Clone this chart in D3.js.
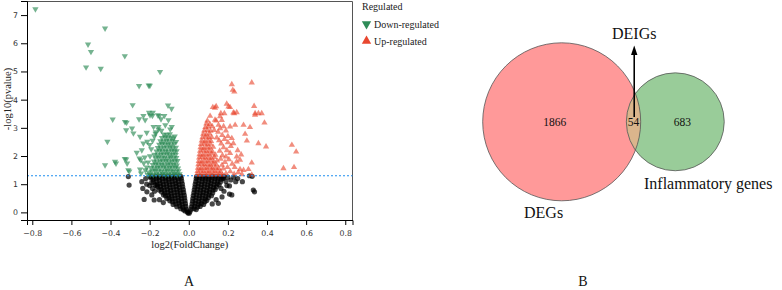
<!DOCTYPE html>
<html>
<head>
<meta charset="utf-8">
<script src="https://cdn.jsdelivr.net/npm/d3@7"></script>
<style>
  body { margin: 0; background: #fff; }
  svg { display: block; }
</style>
</head>
<body>
<div id="figure-wrapper"></div>
<script>

// ---- volcano data: [log2(FoldChange), -log10(pvalue)] ----
const downGenes = [
  [-0.784,7.21],[-0.428,6.53],[-0.515,5.96],[-0.5,5.7],[-0.525,5.15],[-0.45,5.1],[-0.327,5.55],[-0.147,4.99],
  [-0.254,4.49],[-0.205,4.51],[-0.199,4.5],[-0.287,3.81],[-0.106,3.8],[-0.088,3.68],[-0.203,3.54],[-0.184,3.54],
  [-0.232,3.43],[-0.198,3.45],[-0.186,3.43],[-0.158,3.45],[-0.15,3.43],[-0.125,3.43],[-0.389,3.3],[-0.254,3.31],
  [-0.223,3.28],[-0.142,3.31],[-0.104,3.28],[-0.326,3.21],[-0.318,3.19],[-0.416,2.51],[-0.32,2.92],[-0.29,2.98],
  [-0.283,2.81],[-0.249,2.69],[-0.266,2.12],[-0.24,2.21],[-0.232,2.45],[-0.212,2.51],[-0.428,1.68],[-0.377,1.8],
  [-0.372,1.74],[-0.327,1.9],[-0.32,1.88],[-0.315,1.74],[-0.304,1.46],[-0.309,1.5],[-0.252,1.92],[-0.245,1.86],
  [-0.249,1.53],[-0.244,1.39],
  [-0.205,1.42],[-0.215,1.6],[-0.208,1.78],[-0.225,1.95],[-0.198,2.0],[-0.192,2.25],[-0.2,2.4],[-0.185,2.55],
  [-0.176,2.7],[-0.168,2.85],[-0.155,2.95],[-0.18,3.04],[-0.155,3.04],[-0.087,3.04],[-0.215,2.83],[-0.17,2.8],
  [-0.14,2.9],[-0.12,3.1],[-0.095,2.95],[-0.072,2.7],[-0.065,2.5],[-0.21,1.33],[-0.222,1.5],[-0.23,1.75],
  [-0.197,1.35],[-0.181,1.33],[-0.166,1.36],[-0.149,1.34],[-0.133,1.37],[-0.118,1.33],[-0.104,1.36],[-0.088,1.34],[-0.073,1.37],[-0.059,1.33],[-0.047,1.36],
  [-0.19,1.46],[-0.173,1.48],[-0.158,1.45],[-0.141,1.47],[-0.125,1.44],[-0.111,1.48],[-0.095,1.45],[-0.081,1.47],[-0.066,1.44],[-0.052,1.47],
  [-0.193,1.58],[-0.176,1.56],[-0.161,1.59],[-0.146,1.57],[-0.129,1.6],[-0.114,1.56],[-0.098,1.59],[-0.084,1.57],[-0.069,1.6],[-0.055,1.56],
  [-0.184,1.69],[-0.168,1.71],[-0.152,1.68],[-0.137,1.7],[-0.121,1.67],[-0.106,1.71],[-0.091,1.68],[-0.076,1.7],[-0.061,1.67],
  [-0.178,1.81],[-0.163,1.79],[-0.147,1.82],[-0.132,1.8],[-0.117,1.83],[-0.101,1.79],[-0.087,1.82],[-0.071,1.8],[-0.058,1.83],
  [-0.171,1.93],[-0.156,1.95],[-0.14,1.92],[-0.124,1.94],[-0.109,1.91],[-0.094,1.95],[-0.079,1.92],[-0.064,1.94],
  [-0.176,2.05],[-0.159,2.03],[-0.143,2.06],[-0.128,2.04],[-0.113,2.07],[-0.097,2.03],[-0.083,2.06],[-0.067,2.04],
  [-0.165,2.17],[-0.149,2.19],[-0.134,2.16],[-0.118,2.18],[-0.104,2.15],[-0.088,2.19],[-0.073,2.16],[-0.062,2.18],
  [-0.158,2.29],[-0.142,2.27],[-0.127,2.3],[-0.111,2.28],[-0.095,2.31],[-0.08,2.27],[-0.066,2.3],
  [-0.151,2.41],[-0.136,2.43],[-0.12,2.4],[-0.105,2.42],[-0.09,2.39],[-0.075,2.43],
  [-0.145,2.53],[-0.129,2.51],[-0.114,2.54],[-0.099,2.52],[-0.083,2.55],
  [-0.137,2.65],[-0.121,2.67],[-0.107,2.64],[-0.091,2.66],[-0.079,2.63],
  [-0.127,2.77],[-0.112,2.75],[-0.097,2.78]
]

const upGenes = [
  [0.22,4.54],[0.322,4.6],[0.225,4.34],[0.233,4.28],[0.123,3.73],[0.134,3.71],[0.14,3.76],[0.194,3.85],
  [0.203,3.75],[0.211,3.73],[0.334,3.77],[0.339,3.51],[0.356,3.51],[0.109,3.42],[0.16,3.4],[0.164,3.51],
  [0.182,3.51],[0.228,3.54],[0.232,3.51],[0.245,3.55],[0.339,3.46],[0.373,3.51],[0.387,3.18],[0.28,3.1],
  [0.313,3.02],[0.211,3.04],[0.237,3.1],[0.134,3.28],[0.152,3.1],[0.16,2.98],[0.095,3.25],[0.14,3.25],
  [0.169,3.27],[0.288,2.78],[0.297,2.54],[0.22,2.63],[0.228,2.45],[0.356,2.45],[0.395,2.33],[0.527,2.39],
  [0.549,2.15],[0.484,1.56],[0.538,1.6],[0.322,1.76],[0.262,1.53],[0.28,1.5],[0.305,1.53],[0.322,1.33],
  [0.245,1.8],[0.262,1.86],[0.211,2.1],[0.245,1.98],
  [0.15,2.85],[0.171,2.74],[0.19,2.9],[0.183,2.6],[0.2,2.48],[0.166,2.44],[0.178,2.3],[0.195,2.2],
  [0.158,2.18],[0.215,2.35],[0.19,1.98],[0.172,2.02],[0.205,1.88],[0.185,1.78],[0.163,1.9],[0.222,1.72],
  [0.198,1.6],[0.176,1.55],[0.212,1.45],[0.19,1.38],[0.232,1.36],[0.17,1.68],[0.155,2.55],[0.143,2.65],
  [0.25,2.2],[0.268,2.05],[0.235,1.6],[0.253,1.42],[0.272,1.35],[0.2,2.7],[0.178,3.05],[0.12,3.05],[0.13,2.92],
  [0.042,1.35],[0.056,1.33],[0.07,1.36],[0.085,1.34],[0.1,1.37],[0.114,1.33],[0.129,1.36],[0.144,1.34],[0.158,1.37],[0.172,1.33],
  [0.045,1.46],[0.059,1.48],[0.074,1.45],[0.089,1.47],[0.103,1.44],[0.118,1.48],[0.133,1.45],[0.148,1.47],[0.163,1.44],
  [0.047,1.58],[0.062,1.56],[0.077,1.59],[0.092,1.57],[0.107,1.6],[0.121,1.56],[0.136,1.59],[0.152,1.57],
  [0.049,1.7],[0.064,1.72],[0.079,1.69],[0.094,1.71],[0.11,1.68],[0.125,1.72],[0.141,1.69],
  [0.051,1.82],[0.066,1.8],[0.081,1.83],[0.097,1.81],[0.112,1.84],[0.128,1.8],[0.145,1.83],
  [0.053,1.94],[0.068,1.96],[0.084,1.93],[0.099,1.95],[0.115,1.92],[0.131,1.96],
  [0.055,2.06],[0.071,2.04],[0.086,2.07],[0.102,2.05],[0.118,2.08],[0.136,2.04],
  [0.058,2.18],[0.073,2.2],[0.089,2.17],[0.105,2.19],[0.121,2.16],
  [0.06,2.3],[0.076,2.28],[0.092,2.31],[0.108,2.29],[0.125,2.32],
  [0.063,2.42],[0.079,2.44],[0.095,2.41],[0.111,2.43],
  [0.066,2.54],[0.082,2.52],[0.098,2.55],[0.114,2.53],
  [0.07,2.66],[0.086,2.68],[0.102,2.65],[0.117,2.67],
  [0.074,2.78],[0.09,2.76],[0.106,2.79],
  [0.079,2.9],[0.095,2.92],[0.111,2.89],
  [0.085,3.02],[0.1,3.04],
  [0.09,3.15],[0.108,3.13]
]

const nsGenes = [
  // left side
  [-0.007,0.02],[-0.019,0.05],[-0.004,-0.02],
  [-0.012,0.12],[-0.027,0.09],[-0.041,0.13],
  [-0.015,0.21],[-0.031,0.19],[-0.046,0.23],[-0.061,0.2],
  [-0.017,0.31],[-0.034,0.29],[-0.05,0.33],[-0.066,0.3],[-0.08,0.28],
  [-0.019,0.41],[-0.036,0.39],[-0.052,0.42],[-0.068,0.4],[-0.084,0.38],[-0.097,0.41],
  [-0.021,0.51],[-0.038,0.49],[-0.054,0.52],[-0.07,0.5],[-0.086,0.48],[-0.101,0.52],[-0.112,0.49],
  [-0.023,0.61],[-0.04,0.59],[-0.056,0.62],[-0.072,0.6],[-0.088,0.58],[-0.104,0.61],[-0.119,0.59],[-0.129,0.62],
  [-0.026,0.71],[-0.043,0.69],[-0.059,0.72],[-0.075,0.7],[-0.091,0.68],[-0.107,0.71],[-0.123,0.69],[-0.139,0.72],
  [-0.028,0.81],[-0.045,0.79],[-0.061,0.82],[-0.077,0.8],[-0.093,0.78],[-0.109,0.81],[-0.125,0.79],[-0.141,0.82],[-0.152,0.79],
  [-0.031,0.91],[-0.048,0.89],[-0.064,0.92],[-0.08,0.9],[-0.096,0.88],[-0.112,0.91],[-0.128,0.89],[-0.144,0.92],[-0.159,0.9],
  [-0.033,1.01],[-0.05,0.99],[-0.066,1.02],[-0.082,1.0],[-0.098,0.98],[-0.114,1.01],[-0.13,0.99],[-0.146,1.02],[-0.162,1.0],[-0.172,0.97],
  [-0.036,1.11],[-0.053,1.09],[-0.069,1.12],[-0.085,1.1],[-0.101,1.08],[-0.117,1.11],[-0.133,1.09],[-0.149,1.12],[-0.165,1.1],[-0.181,1.08],
  [-0.038,1.21],[-0.055,1.19],[-0.071,1.22],[-0.087,1.2],[-0.103,1.18],[-0.119,1.21],[-0.135,1.19],[-0.151,1.22],[-0.167,1.2],[-0.183,1.18],[-0.194,1.22],
  [-0.041,1.28],[-0.057,1.27],[-0.073,1.29],[-0.089,1.27],[-0.105,1.28],[-0.121,1.27],[-0.137,1.29],[-0.153,1.27],[-0.169,1.28],[-0.185,1.26],[-0.199,1.28],
  [-0.309,1.27],[-0.305,0.97],[-0.228,0.46],[-0.214,0.73],[-0.235,0.85],[-0.24,1.09],[-0.189,0.62],[-0.177,0.44],
  [-0.163,0.94],[-0.22,1.2],[-0.2,0.95],[-0.19,1.05],[-0.175,0.75],[-0.215,1.0],[-0.15,0.45],[-0.13,0.35],[-0.185,0.85],
  // right side
  [0.006,0.03],[0.002,-0.03],
  [0.012,0.11],[0.027,0.13],[0.038,0.1],
  [0.014,0.2],[0.03,0.22],[0.045,0.19],[0.058,0.21],
  [0.017,0.3],[0.033,0.32],[0.049,0.29],[0.064,0.31],[0.076,0.28],
  [0.019,0.4],[0.035,0.42],[0.051,0.39],[0.067,0.41],[0.082,0.38],[0.092,0.42],
  [0.021,0.5],[0.037,0.52],[0.053,0.49],[0.069,0.51],[0.085,0.48],[0.1,0.52],
  [0.023,0.6],[0.039,0.62],[0.055,0.59],[0.071,0.61],[0.087,0.58],[0.103,0.62],[0.116,0.59],
  [0.026,0.7],[0.042,0.72],[0.058,0.69],[0.074,0.71],[0.09,0.68],[0.106,0.72],[0.122,0.69],
  [0.028,0.8],[0.044,0.82],[0.06,0.79],[0.076,0.81],[0.092,0.78],[0.108,0.82],[0.124,0.79],[0.135,0.81],
  [0.031,0.9],[0.047,0.92],[0.063,0.89],[0.079,0.91],[0.095,0.88],[0.111,0.92],[0.127,0.89],[0.142,0.91],
  [0.033,1.0],[0.049,1.02],[0.065,0.99],[0.081,1.01],[0.097,0.98],[0.113,1.02],[0.129,0.99],[0.145,1.01],[0.155,0.98],
  [0.036,1.1],[0.052,1.12],[0.068,1.09],[0.084,1.11],[0.1,1.08],[0.116,1.12],[0.132,1.09],[0.148,1.11],[0.162,1.08],
  [0.038,1.2],[0.054,1.22],[0.07,1.19],[0.086,1.21],[0.102,1.18],[0.118,1.22],[0.134,1.19],[0.15,1.21],[0.166,1.18],[0.175,1.22],
  [0.04,1.27],[0.056,1.29],[0.072,1.27],[0.088,1.28],[0.104,1.26],[0.12,1.29],[0.136,1.27],[0.152,1.28],[0.168,1.26],[0.18,1.28],
  [0.24,1.09],[0.274,1.09],[0.33,0.79],[0.336,0.73],[0.208,0.65],[0.22,0.62],[0.151,0.32],[0.31,1.3],
  [0.324,1.28],[0.177,1.21],[0.208,0.94],[0.19,1.1],[0.2,1.25],[0.165,0.85],[0.18,0.75],[0.215,1.15],
  [0.23,1.25],[0.25,1.2],[0.14,0.45],[0.12,0.3],[0.17,0.55],[0.195,0.95]
]

const xTicks = [-0.8, -0.6, -0.4, -0.2, 0.0, 0.2, 0.4, 0.6, 0.8]
const yTicks = [0, 1, 2, 3, 4, 5, 6, 7]
const pThreshold = 0.05

const legendTitle = "Regulated"
const legendLabels = ["Down-regulated", "Up-regulated"]

// ---- venn data ----
const vennNames = ["DEGs", "Inflammatory genes"]
const vennCounts = [1866, 54, 683]   // DEGs only, both, inflammatory only
const vennCalloutLabel = "DEIGs"
const panelLabels = ["A", "B"]

const serif = "'Liberation Serif', 'Times New Roman', serif"
const sans = "'DejaVu Sans', sans-serif"
const colors = {
  down: "#2e8b57",
  up: "#e8472f",
  ns: "#000000",
  threshold: "#1f8ff0",
  vennA: "#ff9999",
  vennB: "#99cc99",
  vennAB: "#dab58c",
}

function drawFigure() {
  const svg = d3.select("#figure-wrapper")
    .append("svg")
      .attr("width", 782)
      .attr("height", 290)

  // ===== panel A: volcano =====
  let dimensions = {
    margin: { top: 1, left: 27 },
    boundedWidth: 325.5,
    boundedHeight: 219,
  }

  const xScale = d3.scaleLinear()
      .domain([-0.827, 0.837])
      .range([0, dimensions.boundedWidth])

  const yScale = d3.scaleLinear()
      .domain([-0.27, 7.5])
      .range([dimensions.boundedHeight, 0])

  const bounds = svg.append("g")
      .attr("transform", `translate(${dimensions.margin.left},${dimensions.margin.top})`)

  // frame top / right
  bounds.append("path")
      .attr("d", `M0,0.5H${dimensions.boundedWidth}V${dimensions.boundedHeight}`)
      .attr("fill", "none")
      .attr("stroke", "#555")
      .attr("stroke-width", 1)

  // points
  bounds.append("g")
    .selectAll("circle")
    .data(nsGenes)
    .join("circle")
      .attr("cx", d => xScale(d[0]))
      .attr("cy", d => yScale(d[1]))
      .attr("r", 2.6)
      .attr("fill", colors.ns)
      .attr("fill-opacity", 0.72)

  const smallTri = d3.symbol().type(d3.symbolTriangle).size(17)

  bounds.append("g")
    .selectAll("path")
    .data(downGenes)
    .join("path")
      .attr("d", smallTri)
      .attr("transform", d => `translate(${xScale(d[0])},${yScale(d[1])}) rotate(180)`)
      .attr("fill", colors.down)
      .attr("fill-opacity", 0.66)

  bounds.append("g")
    .selectAll("path")
    .data(upGenes)
    .join("path")
      .attr("d", smallTri)
      .attr("transform", d => `translate(${xScale(d[0])},${yScale(d[1])})`)
      .attr("fill", colors.up)
      .attr("fill-opacity", 0.62)

  // p = 0.05 line
  bounds.append("line")
      .attr("x1", 0)
      .attr("x2", dimensions.boundedWidth)
      .attr("y1", yScale(-Math.log10(pThreshold)))
      .attr("y2", yScale(-Math.log10(pThreshold)))
      .attr("stroke", colors.threshold)
      .attr("stroke-width", 1.1)
      .attr("stroke-dasharray", "2,2")

  // axes
  const xAxis = bounds.append("g")
      .attr("transform", `translate(0,${dimensions.boundedHeight})`)
      .call(d3.axisBottom(xScale)
        .tickValues(xTicks)
        .tickFormat(d3.format(".1f"))
        .tickSize(5)
        .tickPadding(5))

  const yAxis = bounds.append("g")
      .call(d3.axisLeft(yScale)
        .tickValues(yTicks)
        .tickFormat(d3.format("d"))
        .tickSize(6)
        .tickPadding(3))

  ;[xAxis, yAxis].forEach(axis => {
    axis.selectAll("text")
        .attr("font-family", sans)
        .attr("font-size", 7.8)
        .attr("fill", "#333")
    axis.selectAll("line, path").attr("stroke", "#000")
  })

  svg.append("text")
      .attr("x", dimensions.margin.left + dimensions.boundedWidth / 2)
      .attr("y", 248)
      .attr("text-anchor", "middle")
      .attr("font-family", serif)
      .attr("font-size", 10.5)
      .attr("fill", "#222")
      .text("log2(FoldChange)")

  svg.append("text")
      .attr("transform", "translate(10.5,99) rotate(-90)")
      .attr("text-anchor", "middle")
      .attr("font-family", serif)
      .attr("font-size", 10.5)
      .attr("fill", "#222")
      .text("-log10(pvalue)")

  // legend
  const legend = svg.append("g").attr("transform", "translate(362,0)")
  legend.append("text")
      .attr("x", 0).attr("y", 9.5)
      .attr("font-family", serif)
      .attr("font-size", 10)
      .attr("fill", "#222")
      .text(legendTitle)

  const legendTri = d3.symbol().type(d3.symbolTriangle).size(38)
  legendLabels.forEach((label, i) => {
    const cy = 24 + i * 17
    legend.append("path")
        .attr("d", legendTri)
        .attr("transform", `translate(4.5,${cy}) rotate(${i === 0 ? 180 : 0})`)
        .attr("fill", i === 0 ? colors.down : colors.up)
    legend.append("text")
        .attr("x", 12)
        .attr("y", cy + 3.5)
        .attr("font-family", serif)
        .attr("font-size", 10)
        .attr("fill", "#222")
        .text(label)
  })

  // ===== panel B: venn =====
  const totalA = vennCounts[0] + vennCounts[1]
  const totalB = vennCounts[2] + vennCounts[1]
  const rScale = d3.scaleSqrt().domain([0, totalA]).range([0, 79])
  const r1 = rScale(totalA)
  const r2 = rScale(totalB)

  function lensArea(d) {
    const a1 = Math.acos((d * d + r1 * r1 - r2 * r2) / (2 * d * r1))
    const a2 = Math.acos((d * d + r2 * r2 - r1 * r1) / (2 * d * r2))
    const k = Math.sqrt((-d + r1 + r2) * (d + r1 - r2) * (d - r1 + r2) * (d + r1 + r2))
    return r1 * r1 * a1 + r2 * r2 * a2 - 0.5 * k
  }
  const targetArea = vennCounts[1] / totalA * Math.PI * r1 * r1
  let lo = Math.abs(r1 - r2) + 1e-6, hi = r1 + r2 - 1e-6
  for (let i = 0; i < 60; i++) {
    const mid = (lo + hi) / 2
    if (lensArea(mid) > targetArea) lo = mid
    else hi = mid
  }
  const dist = (lo + hi) / 2

  const cA = { x: 561.7, y: 121.8 }
  const cB = { x: cA.x + dist, y: cA.y }
  const lensMid = ((cA.x + r1) + (cB.x - r2)) / 2

  const venn = svg.append("g")
  venn.append("clipPath").attr("id", "clipA")
    .append("circle").attr("cx", cA.x).attr("cy", cA.y).attr("r", r1)

  venn.append("circle")
      .attr("cx", cA.x).attr("cy", cA.y).attr("r", r1)
      .attr("fill", colors.vennA)
  venn.append("circle")
      .attr("cx", cB.x).attr("cy", cB.y).attr("r", r2)
      .attr("fill", colors.vennB)
  venn.append("circle")
      .attr("cx", cB.x).attr("cy", cB.y).attr("r", r2)
      .attr("clip-path", "url(#clipA)")
      .attr("fill", colors.vennAB)
  ;[[cA, r1], [cB, r2]].forEach(([c, r]) => {
    venn.append("circle")
        .attr("cx", c.x).attr("cy", c.y).attr("r", r)
        .attr("fill", "none")
        .attr("stroke", "#555")
        .attr("stroke-width", 0.8)
  })

  const countPos = [cA.x - 7, lensMid, cB.x + 7]
  vennCounts.forEach((n, i) => {
    venn.append("text")
        .attr("x", countPos[i])
        .attr("y", cA.y + 4)
        .attr("text-anchor", "middle")
        .attr("font-family", serif)
        .attr("font-size", 11.5)
        .attr("fill", "#111")
        .text(n)
  })

  // arrow to DEIGs
  const ax = lensMid + 0.7
  venn.append("line")
      .attr("x1", ax).attr("x2", ax)
      .attr("y1", 117).attr("y2", 53)
      .attr("stroke", "#000")
      .attr("stroke-width", 1.6)
  venn.append("path")
      .attr("d", `M${ax},45.5L${ax - 3.2},55L${ax + 3.2},55Z`)
      .attr("fill", "#000")

  venn.append("text")
      .attr("x", ax)
      .attr("y", 39)
      .attr("text-anchor", "middle")
      .attr("font-family", serif)
      .attr("font-size", 16)
      .attr("fill", "#111")
      .text(vennCalloutLabel)

  venn.append("text")
      .attr("x", 524).attr("y", 217.5)
      .attr("font-family", serif)
      .attr("font-size", 16)
      .attr("fill", "#111")
      .text(vennNames[0])

  venn.append("text")
      .attr("x", 644).attr("y", 189)
      .attr("font-family", serif)
      .attr("font-size", 16)
      .attr("fill", "#111")
      .text(vennNames[1])

  // panel letters
  ;[189, 583].forEach((x, i) => {
    svg.append("text")
        .attr("x", x).attr("y", 286)
        .attr("text-anchor", "middle")
        .attr("font-family", serif)
        .attr("font-size", 14)
        .attr("fill", "#111")
        .text(panelLabels[i])
  })
}

drawFigure()
</script>
</body>
</html>
